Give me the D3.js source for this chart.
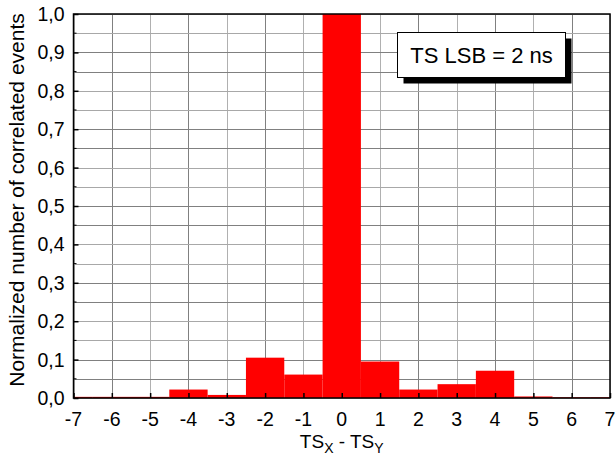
<!DOCTYPE html>
<html><head><meta charset="utf-8">
<script src="https://cdn.jsdelivr.net/npm/d3@7"></script>
<style>body{margin:0;background:#fff}svg{display:block;font-family:Arial,"Liberation Sans",sans-serif}</style>
</head><body>
<script>
const bins = [-7,-6,-5,-4,-3,-2,-1,0,1,2,3,4,5,6,7];
const values = [0.003,0.003,0.003,0.022,0.008,0.105,0.061,1.0,0.095,0.022,0.036,0.071,0.004,0.002,0.002];
const xTicks = [-7,-6,-5,-4,-3,-2,-1,0,1,2,3,4,5,6,7];
const yTicks = [0,0.1,0.2,0.3,0.4,0.5,0.6,0.7,0.8,0.9,1.0];
const yMinor = d3.range(0.05,1.0,0.1);
const legendText = "TS LSB = 2 ns";

const W=615,H=464;
const m={l:73.5,r:5,t:14,b:66};
const svg=d3.select("body").append("svg").attr("width",W).attr("height",H);
const x=d3.scaleLinear().domain([-7,7]).range([m.l,W-m.r]);
const y=d3.scaleLinear().domain([0,1]).range([H-m.b,m.t]);
const fmt=d=>d3.format(".1f")(d).replace(".",",");
const TF=19.5;

// grid
const g=svg.append("g");
g.selectAll(".vg").data(xTicks).join("line")
 .attr("x1",d=>Math.round(x(d))+0.5).attr("x2",d=>Math.round(x(d))+0.5).attr("y1",y(0)).attr("y2",y(1))
 .attr("stroke",(d,i)=>i%2? "#808080":"#b0b0b0").attr("stroke-width",1);
g.selectAll(".hg").data(yTicks.concat(yMinor)).join("line")
 .attr("x1",x(-7)).attr("x2",x(7)).attr("y1",d=>Math.round(y(d))+0.5).attr("y2",d=>Math.round(y(d))+0.5)
 .attr("stroke",(d,i)=>i%2? "#808080":"#a8a8a8").attr("stroke-width",1);

// bars
svg.append("clipPath").attr("id","c").append("rect")
 .attr("x",x(-7)).attr("y",y(1)).attr("width",x(7)-x(-7)).attr("height",y(0)-y(1));
svg.append("g").attr("clip-path","url(#c)").selectAll("rect").data(bins).join("rect")
 .attr("x",d=>x(d-0.5)).attr("width",d=>x(d+0.5)-x(d-0.5))
 .attr("y",(d,i)=>y(values[i])).attr("height",(d,i)=>y(0)-y(values[i]))
 .attr("fill","#ff0000");

// frame
svg.append("rect").attr("x",x(-7)).attr("y",y(1)).attr("width",x(7)-x(-7)).attr("height",y(0)-y(1))
 .attr("fill","none").attr("stroke","#000").attr("stroke-width",1.5);

// axes (ticks via d3 axis, labels drawn as text from the scales)
const ya=svg.append("g").attr("transform",`translate(${x(-7)},0)`)
 .call(d3.axisLeft(y).tickValues(yTicks).tickSize(-5).tickFormat(""));
ya.select(".domain").remove();
ya.selectAll(".tick line").attr("stroke","#000").attr("stroke-width",1.5);
svg.append("g").selectAll("line").data(yMinor).join("line")
 .attr("x1",x(-7)).attr("x2",x(-7)+3).attr("y1",d=>y(d)).attr("y2",d=>y(d)).attr("stroke","#000");
svg.append("g").selectAll("text").data(yTicks).join("text")
 .attr("x",64.5).attr("y",d=>y(d)+7).attr("text-anchor","end")
 .attr("font-size",TF).attr("fill","#000").text(fmt);

const xa=svg.append("g").attr("transform",`translate(0,${y(0)})`)
 .call(d3.axisBottom(x).tickValues(xTicks).tickSize(-5).tickFormat(""));
xa.select(".domain").remove();
xa.selectAll(".tick line").attr("stroke","#000").attr("stroke-width",1.5);
svg.append("g").selectAll("text").data(xTicks).join("text")
 .attr("x",d=>x(d)).attr("y",425.5).attr("text-anchor","middle")
 .attr("font-size",TF).attr("fill","#000").text(d=>d<0? "-"+Math.abs(d):String(d));

// axis titles
svg.append("text").attr("transform",`translate(23.5,200) rotate(-90)`)
 .attr("text-anchor","middle").attr("font-size",21).text("Normalized number of correlated events");
const xt=svg.append("text").attr("x",(x(-7)+x(7))/2).attr("y",448).attr("text-anchor","middle").attr("font-size",19);
xt.append("tspan").text("TS");
xt.append("tspan").attr("font-size",14).attr("dy",5).text("X");
xt.append("tspan").attr("dy",-5).text(" - TS");
xt.append("tspan").attr("font-size",14).attr("dy",5).text("Y");

// legend box
const lx=397.5,ly=32.5,lw=168,lh=45;
svg.append("rect").attr("x",lx+6).attr("y",ly+6).attr("width",lw).attr("height",lh).attr("fill","#000");
svg.append("rect").attr("x",lx).attr("y",ly).attr("width",lw).attr("height",lh).attr("fill","#fff").attr("stroke","#000").attr("stroke-width",1);
svg.append("text").attr("x",lx+lw/2).attr("y",ly+lh/2+8).attr("text-anchor","middle").attr("font-size",22).text(legendText);
</script>
</body></html>
